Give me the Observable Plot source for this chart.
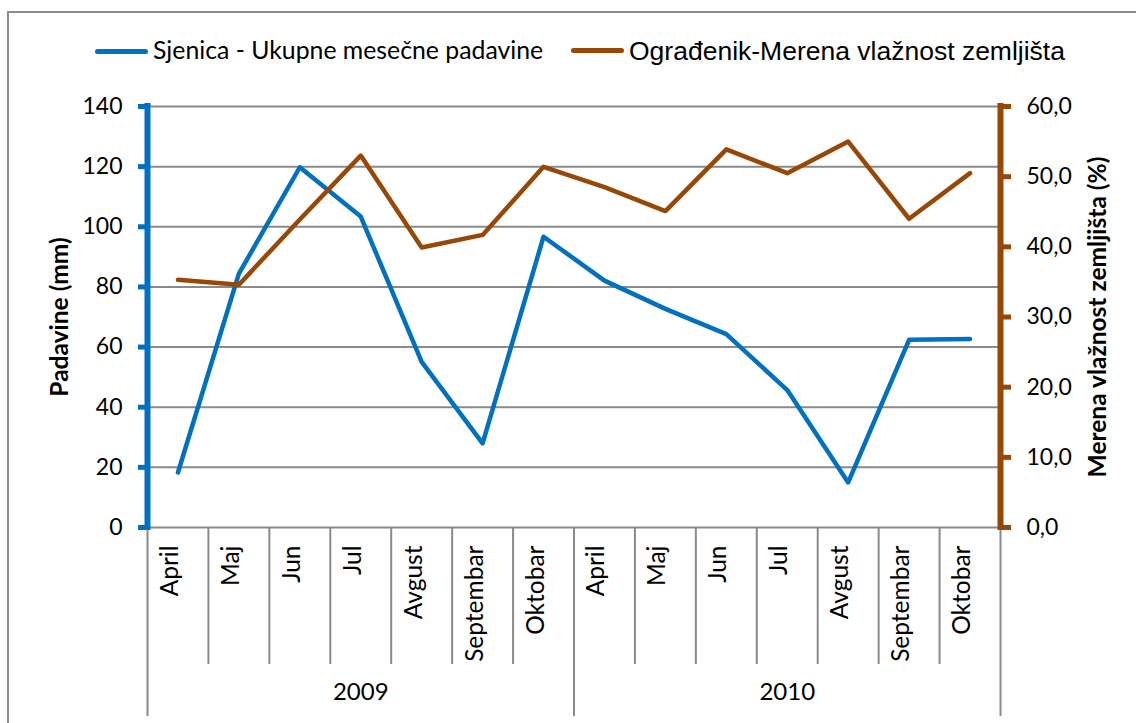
<!DOCTYPE html>
<html><head><meta charset="utf-8">
<script src="https://cdn.jsdelivr.net/npm/d3@7"></script>
<script src="https://cdn.jsdelivr.net/npm/@observablehq/plot@0.6"></script>
<style>
body{margin:0;background:#fff;}
#wrap{position:relative;width:1136px;height:723px;overflow:hidden;background:#fff;}
#border{position:absolute;left:7px;top:11px;width:1150px;height:730px;border:2px solid #8c8c8c;box-sizing:border-box;}
#chart{position:absolute;left:0;top:0;}
.leg{position:absolute;white-space:nowrap;line-height:1;color:#000;}
.sw{position:absolute;height:5px;border-radius:2.5px;}
</style></head><body>
<div id="wrap">
<div id="border"></div>
<div id="chart"></div>
<div class="sw" style="left:95px;top:49px;width:53px;background:#0070C0"></div>
<div class="leg" style="left:153px;top:38px;font-family:Lato;font-size:24.8px;">Sjenica - Ukupne mesečne padavine</div>
<div class="sw" style="left:571px;top:48px;width:53px;background:#974806"></div>
<div class="leg" style="left:629px;top:38px;font-family:'Liberation Sans';font-size:26.5px;">Ograđenik-Merena vlažnost zemljišta</div>
</div>
<script>
const years = ["2009", "2010"];
const months = ["April", "Maj", "Jun", "Jul", "Avgust", "Septembar", "Oktobar"];
const padavine = [18.3, 84.4, 119.8, 103.4, 55.1, 28.0, 96.7, 82.1, 72.7, 64.3, 45.7, 15.0, 62.4, 62.7];
const vlaznost = [35.3, 34.6, 43.9, 53.0, 39.9, 41.7, 51.4, 48.5, 45.1, 53.9, 50.5, 55.0, 44.0, 50.5];
const leftTicks = [0, 20, 40, 60, 80, 100, 120, 140];
const rightTicks = [0, 10, 20, 30, 40, 50, 60];

const BLUE = "#0070C0", BROWN = "#974806", GRID = "#8a8a8a";
const LMAX = 140, RMAX = 60;
const toLeft = v => v * LMAX / RMAX;

const cats = years.flatMap((y, yi) => months.map((m, mi) => ({year: y, month: m, i: yi * months.length + mi})));
const rows = cats.map((c, k) => ({...c, p: padavine[k], v: vlaznost[k]}));
const n = cats.length;
const monthDividers = d3.range(1, n).filter(k => k % months.length !== 0);
const yearDividers = d3.range(0, n + 1, months.length);
const yearRows = years.map((y, yi) => ({year: y, c: yi * months.length + months.length / 2}));

const W = 1136, H = 723, mL = 147, mR = 136, mT = 106, mB = 196;
const plotH = H - mT - mB;

const chart = Plot.plot({
  width: W, height: H,
  marginLeft: mL, marginRight: mR, marginTop: mT, marginBottom: mB,
  style: {fontFamily: "Lato", fontSize: "23px", color: "#000", background: "transparent", overflow: "visible"},
  x: {type: "linear", domain: [0, n], axis: null},
  y: {domain: [0, LMAX], axis: null},
  marks: [
    Plot.ruleY(leftTicks.filter(d => d > 0), {stroke: GRID, strokeWidth: 2}),
    Plot.ruleY([0], {stroke: GRID, strokeWidth: 2}),
    Plot.ruleX(monthDividers, {insetTop: plotH, insetBottom: -137, stroke: GRID, strokeWidth: 2}),
    Plot.ruleX(yearDividers, {insetTop: plotH, insetBottom: -189, stroke: GRID, strokeWidth: 2}),
    Plot.line(rows, {x: d => d.i + 0.5, y: "p", stroke: BLUE, strokeWidth: 4.5, strokeLinejoin: "round", strokeLinecap: "round"}),
    Plot.line(rows, {x: d => d.i + 0.5, y: d => toLeft(d.v), stroke: BROWN, strokeWidth: 4.5, strokeLinejoin: "round", strokeLinecap: "round"}),
    Plot.ruleX([0], {y1: 0, y2: LMAX, stroke: BLUE, strokeWidth: 6, strokeLinecap: "square"}),
    Plot.ruleX([n], {y1: 0, y2: LMAX, stroke: BROWN, strokeWidth: 6, strokeLinecap: "square"}),
    Plot.axisY(leftTicks, {anchor: "left", label: null, tickSize: 9, tickPadding: 16, stroke: BLUE, strokeWidth: 5, fill: "#000", fontSize: 23, fontFamily: "Lato"}),
    Plot.axisY(rightTicks.map(toLeft), {anchor: "right", label: null, tickSize: 10, tickPadding: 16, stroke: BROWN, strokeWidth: 5, fill: "#000", fontSize: 23, fontFamily: "Lato",
      tickFormat: d => (d * RMAX / LMAX).toFixed(1).replace(".", ",")}),
    Plot.text(["Padavine (mm)"], {frameAnchor: "left", textAnchor: "middle", dx: -87, rotate: -90, fontWeight: "bold", fontSize: 24.5, fill: "#000"}),
    Plot.text(["Merena vlažnost zemljišta (%)"], {frameAnchor: "right", textAnchor: "middle", dx: 98, rotate: -90, fontWeight: "bold", fontSize: 24.5, fill: "#000"}),
    Plot.text(cats, {x: d => d.i + 0.5, text: "month", frameAnchor: "bottom", dy: 18, rotate: -90, textAnchor: "end", fontSize: 24.5, fill: "#000"}),
    Plot.text(yearRows, {x: "c", text: "year", frameAnchor: "bottom", dy: 172, fontSize: 24, fill: "#000"})
  ]
});
document.getElementById("chart").appendChild(chart);
</script>
</body></html>
